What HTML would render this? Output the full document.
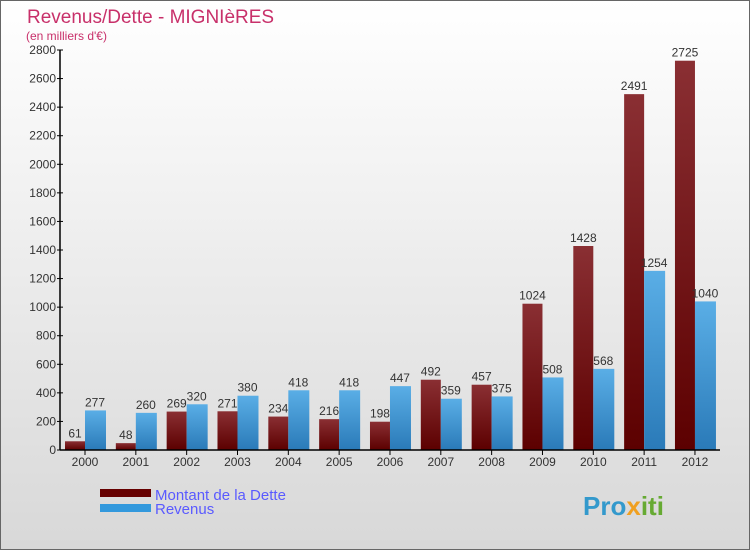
<!DOCTYPE html>
<html><head><meta charset="utf-8"><style>
body{margin:0}
svg{display:block;font-family:"Liberation Sans",sans-serif}
</style></head><body>
<svg id="c" width="750" height="550" xmlns="http://www.w3.org/2000/svg">
<defs>
<linearGradient id="bg" x1="0" y1="0" x2="0" y2="1"><stop offset="0" stop-color="#ffffff"/><stop offset="1" stop-color="#d8d8d8"/></linearGradient>
<linearGradient id="gd" x1="0" y1="0" x2="0" y2="1"><stop offset="0" stop-color="#8a2f33"/><stop offset="1" stop-color="#5c0000"/></linearGradient>
<linearGradient id="gr" x1="0" y1="0" x2="0" y2="1"><stop offset="0" stop-color="#5aaee6"/><stop offset="1" stop-color="#2a7ab8"/></linearGradient>
</defs>
<rect x="0.5" y="0.5" width="749" height="549" fill="url(#bg)" stroke="#666"/>
<text x="27" y="23" font-size="19" fill="#c8306a">Revenus/Dette - MIGNIèRES</text>
<text x="26" y="40" font-size="12" fill="#c8306a">(en milliers d'€)</text>
<g id="plot"></g>
<g>
<rect x="100" y="489" width="51" height="8" fill="#660000"/>
<text x="155" y="500" font-size="15" fill="#5a5aff">Montant de la Dette</text>
<rect x="100" y="504" width="51" height="8" fill="#3399dd"/>
<text x="155" y="514" font-size="15" fill="#5a5aff">Revenus</text>
</g>
<text x="583" y="515" font-size="26" font-weight="bold" fill="#3399cc">Pro<tspan fill="#f0a020">x</tspan><tspan fill="#66aa33">iti</tspan></text>
</svg>
<script>
const categories=["2000","2001","2002","2003","2004","2005","2006","2007","2008","2009","2010","2011","2012"];
const dette=[61,48,269,271,234,216,198,492,457,1024,1428,2491,2725];
const revenus=[277,260,320,380,418,418,447,359,375,508,568,1254,1040];
const ticks=[0,200,400,600,800,1000,1200,1400,1600,1800,2000,2200,2400,2600,2800];
const NS="http://www.w3.org/2000/svg";
const g=document.getElementById("plot");
function y(v){return 450-v*400/2800;}
function xc(i){return 85+i*50.83;}
function mk(t,a,txt){const e=document.createElementNS(NS,t);for(const k in a)e.setAttribute(k,a[k]);if(txt!==undefined)e.textContent=txt;g.appendChild(e);return e;}
ticks.forEach(t=>{
 let l=mk("line",{x1:57,x2:63,y1:y(t),y2:y(t),stroke:"#000"});
 
 
 let tx=mk("text",{x:56,y:y(t)+4,"font-size":12,fill:"#333","text-anchor":"end"},String(t));
 
 
});
categories.forEach((c,i)=>{
 const cx=xc(i);
 let b1=mk("rect",{x:cx-20,y:y(dette[i]),width:20,height:450-y(dette[i]),fill:"url(#gd)"});
 
 
 let b2=mk("rect",{x:cx,y:y(revenus[i]),width:21,height:450-y(revenus[i]),fill:"url(#gr)"});
 
 
 let l1=mk("text",{x:cx-10,y:y(dette[i])-4,"font-size":12,fill:"#333","text-anchor":"middle"},String(dette[i]));
 
 
 let l2=mk("text",{x:cx+10,y:y(revenus[i])-4,"font-size":12,fill:"#333","text-anchor":"middle"},String(revenus[i]));
 
 
 let tk=mk("line",{x1:cx,x2:cx,y1:450,y2:455,stroke:"#000"});
 
 
 let xl=mk("text",{x:cx,y:466,"font-size":12,fill:"#333","text-anchor":"middle"},c);
 
 
});
let ya=mk("line",{x1:60,x2:60,y1:50,y2:450,stroke:"#000","stroke-width":1.5});


let xa=mk("line",{x1:60,x2:720,y1:450,y2:450,stroke:"#000","stroke-width":1.5});


</script>
</body></html>
